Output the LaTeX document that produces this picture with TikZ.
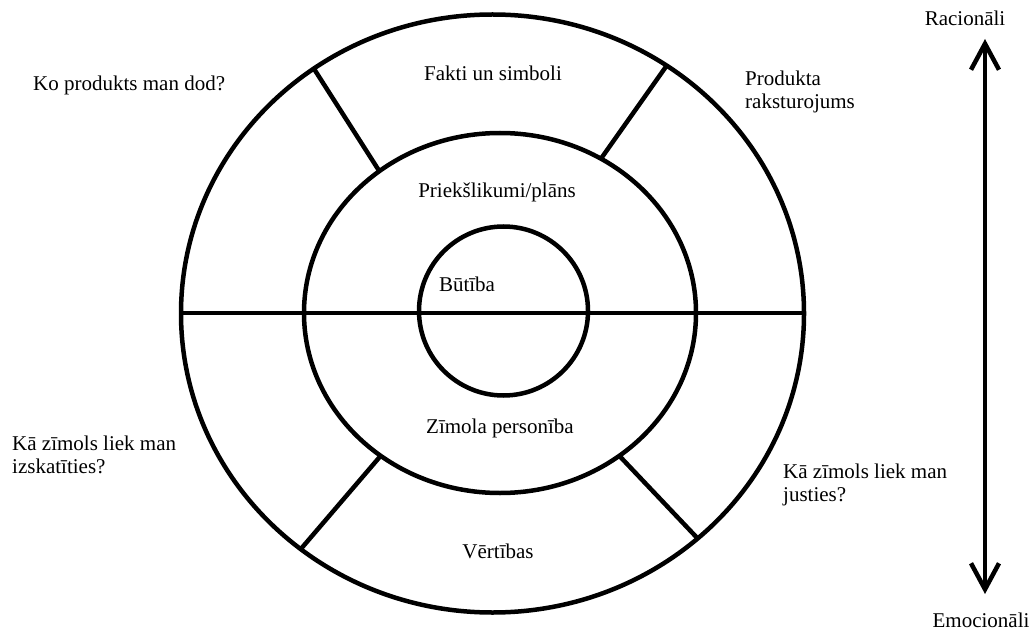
\documentclass[tikz,border=0pt]{standalone}
\usepackage{fontspec}
\setmainfont{Liberation Serif}
\usetikzlibrary{arrows.meta,calc}
\begin{document}
\begin{tikzpicture}[x=1pt,y=1pt,
  ring/.style={line width=4.5pt},
  lbl/.style={inner sep=0pt, font=\fontsize{21}{23}\selectfont, align=center},
  lbll/.style={lbl, align=left, anchor=west},
  axisarrow/.style={line width=4.5pt, {Straight Barb[length=26pt,width=28pt]}-{Straight Barb[length=26pt,width=28pt]}}]
\useasboundingbox (0,0) rectangle (1032,630);
% centres
\coordinate (co) at (492.5,316.5);
\coordinate (cm) at (500,317);
\coordinate (ci) at (503.5,319);
% rings
\draw[ring] (co) ellipse [x radius=311.5, y radius=299];
\draw[ring] (cm) ellipse [x radius=196, y radius=180];
\draw[ring] (ci) circle [radius=84.5];
% horizontal divider
\coordinate (hl) at (181,317);
\coordinate (hr) at (804,317);
\draw[ring] (hl) -- (hr);
% spokes
\coordinate (o1) at ($(co)+(125:311.5 and 299)$);
\coordinate (m1) at ($(cm)+(128:196 and 180)$);
\coordinate (o2) at ($(co)+(56:311.5 and 299)$);
\coordinate (m2) at ($(cm)+(59:196 and 180)$);
\coordinate (o3) at ($(co)+(232:311.5 and 299)$);
\coordinate (m3) at ($(cm)+(232.5:196 and 180)$);
\coordinate (o4) at ($(co)+(-48.8:311.5 and 299)$);
\coordinate (m4) at ($(cm)+(-52.5:196 and 180)$);
\draw[ring] (o1) -- (m1);
\draw[ring] (o2) -- (m2);
\draw[ring] (o3) -- (m3);
\draw[ring] (o4) -- (m4);
% labels
\node[lbll] (q1) at (33,545) {Ko produkts man dod?};
\node[lbl] (fakti) at (493,557) {Fakti un simboli};
\node[lbll] (prod) at (745,538.5) {Produkta\\raksturojums};
\node[lbl] (priek) at (497,438) {Priekšlikumi/plāns};
\node[lbl] (butiba) at (467,346) {Būtība};
\node[lbl] (zimola) at (500,202) {Zīmola personība};
\node[lbl] (vert) at (498,79) {Vērtības};
\node[lbll] (q2) at (12,175.5) {Kā zīmols liek man\\izskatīties?};
\node[lbll] (q3) at (783,145.5) {Kā zīmols liek man\\justies?};
\node[lbl] (rac) at (965,612) {Racionāli};
\node[lbl] (emo) at (981,10) {Emocionāli};
% axis arrow
\coordinate (at) at (985,591);
\coordinate (ab) at (985,36);
\draw[axisarrow] (ab) -- (at);
\end{tikzpicture}
\end{document}
